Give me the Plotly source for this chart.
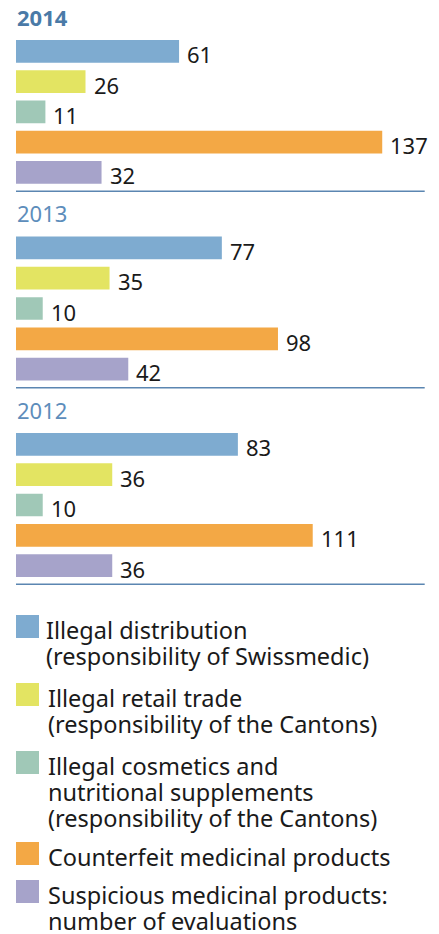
import plotly.graph_objects as go

years = ["2014", "2013", "2012"]
categories = [
    "Illegal distribution<br>(responsibility of Swissmedic)",
    "Illegal retail trade<br>(responsibility of the Cantons)",
    "Illegal cosmetics and<br>nutritional supplements<br>(responsibility of the Cantons)",
    "Counterfeit medicinal products",
    "Suspicious medicinal products:<br>number of evaluations",
]
values_2014 = [61, 26, 11, 137, 32]
values_2013 = [77, 35, 10, 98, 42]
values_2012 = [83, 36, 10, 111, 36]
values = [values_2014, values_2013, values_2012]

colors = ["#7eabd0", "#e3e462", "#a0c8b7", "#f3a845", "#a6a3ca"]
title_colors = ["#4a7aa7", "#5d8dbb", "#5d8dbb"]
FONT = "Noto Sans"
OFF = 8  # page body margin
W, H = 439 - OFF, 934 - OFF

def py(px):
    return 1 - (px - OFF) / H

def pxx(px):
    return (px - OFF) / W

fig = go.Figure()
cat_ids = [c.split("<br>")[0] for c in categories]

# row geometry in page pixels: (domain top, domain bottom, title y, separator y)
rows = [(36.2, 187.6, 17.0, 191.3), (232.8, 384.2, 213.5, 387.7), (429.3, 580.7, 410.0, 584.3)]

shapes = []
annotations = []
for i, (yr, vals) in enumerate(zip(years, values)):
    sfx = "" if i == 0 else str(i + 1)
    fig.add_trace(go.Bar(
        x=vals, y=cat_ids, orientation="h",
        marker=dict(color=colors, line=dict(width=0)),
        xaxis="x" + sfx, yaxis="y" + sfx, showlegend=False, hoverinfo="skip",
    ))
    # value labels
    for v, c in zip(vals, cat_ids):
        annotations.append(dict(
            text=str(v), x=v, y=c, xref="x" + sfx, yref="y" + sfx,
            xanchor="left", yanchor="middle", xshift=6, yshift=-3, showarrow=False,
            font=dict(family=FONT, size=22, color="#1a1a1a"),
        ))
    top, bot, ty, sy = rows[i]
    fig.update_layout(**{
        "xaxis" + sfx: dict(domain=[pxx(16), pxx(425)], range=[0, 153], visible=False,
                             anchor="y" + sfx, fixedrange=True),
        "yaxis" + sfx: dict(domain=[py(bot), py(top)], range=[4.5, -0.5], visible=False,
                             anchor="x" + sfx, type="category", categoryorder="array",
                             categoryarray=cat_ids, fixedrange=True),
    })
    annotations.append(dict(
        text=f"<b>{yr}</b>" if i == 0 else yr, x=pxx(15), y=py(ty), xref="paper", yref="paper",
        xanchor="left", yanchor="middle", showarrow=False,
        font=dict(family=FONT, size=22, color=title_colors[i]),
    ))
    shapes.append(dict(type="line", xref="paper", yref="paper", x0=pxx(16), x1=pxx(424.7),
                       y0=py(sy), y1=py(sy), line=dict(color="#5b86b1", width=1.5)))

fig.update_layout(bargap=0.25)

# legend drawn manually
legend_tops = [615, 683, 751, 842, 880]
for k, (cat, col, top) in enumerate(zip(categories, colors, legend_tops)):
    shapes.append(dict(type="rect", xref="paper", yref="paper", x0=pxx(16), x1=pxx(39),
                       y0=py(top + 23), y1=py(top), fillcolor=col, line=dict(width=0)))
    for j, line in enumerate(cat.split("<br>")):
        annotations.append(dict(
            text=line, x=pxx(44 if k == 0 else 46), y=py(top + 15 + 26 * j),
            xref="paper", yref="paper",
            xanchor="left", yanchor="middle", showarrow=False,
            font=dict(family=FONT, size=23.5, color="#1a1a1a"),
        ))

fig.update_layout(
    width=W, height=H, margin=dict(l=0, r=0, t=0, b=0),
    paper_bgcolor="white", plot_bgcolor="white",
    shapes=shapes, annotations=annotations,
)
fig.write_html("out.html", config={"displayModeBar": False})
